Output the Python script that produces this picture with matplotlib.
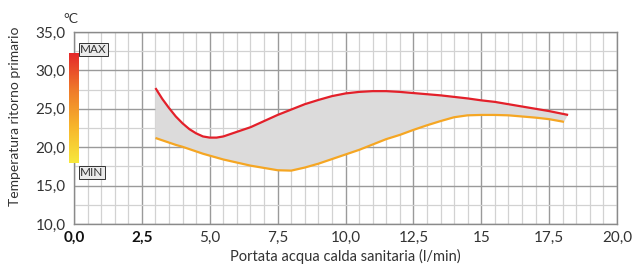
import numpy as np
import matplotlib
import matplotlib.pyplot as plt
from matplotlib.colors import LinearSegmentedColormap

matplotlib.use('Agg')
plt.rcParams['font.family'] = ['Lato', 'DejaVu Sans']

# Dati
portata = [3.0, 3.25, 3.5, 3.75, 4.0, 4.25, 4.5, 4.75, 5.0, 5.25, 5.5, 6.0, 6.5,
           7.0, 7.5, 8.0, 8.5, 9.0, 9.5, 10.0, 10.5, 11.0, 11.5, 12.0, 12.5,
           13.0, 13.5, 14.0, 14.5, 15.0, 15.5, 16.0, 16.5, 17.0, 17.5]
temp_max = [27.7, 26.3, 25.1, 24.0, 23.1, 22.35, 21.8, 21.4, 21.25, 21.25, 21.4,
            22.0, 22.6, 23.4, 24.2, 24.9, 25.6, 26.15, 26.65, 27.0, 27.2, 27.3,
            27.3, 27.2, 27.05, 26.9, 26.75, 26.55, 26.35, 26.1, 25.9, 25.6, 25.3,
            25.0, 24.7]
temp_min = [21.2, 20.9, 20.6, 20.3, 20.05, 19.75, 19.45, 19.15, 18.9, 18.65, 18.4,
            18.0, 17.6, 17.3, 17.0, 16.95, 17.35, 17.85, 18.45, 19.05, 19.65,
            20.35, 21.05, 21.6, 22.25, 22.85, 23.4, 23.9, 24.15, 24.2, 24.2,
            24.15, 24.0, 23.85, 23.65]
x_max = portata + [18.2]
y_max = temp_max + [24.2]
x_min = portata + [18.05]
y_min = temp_min + [23.3]

xticks = [0, 2.5, 5, 7.5, 10, 12.5, 15, 17.5, 20]
xlabels = ['0,0', '2,5', '5,0', '7,5', '10,0', '12,5', '15', '17,5', '20,0']
yticks = [10, 15, 20, 25, 30, 35]
ylabels = ['10,0', '15,0', '20,0', '25,0', '30,0', '35,0']

fig = plt.figure(figsize=(6.35, 2.66), dpi=100)
ax = fig.add_axes([74/635, 42/266, 543/635, 192/266])
ax.set_xlim(0, 20)
ax.set_ylim(10, 35)

# griglia
for v in np.arange(0, 20.01, 0.5):
    major = abs(v / 2.5 - round(v / 2.5)) < 1e-6
    ax.axvline(v, color='#9a9a9a' if major else '#d2d2d2', lw=1.0 if major else 0.9, zorder=1)
for v in np.arange(10, 35.01, 2.5):
    major = abs(v / 5 - round(v / 5)) < 1e-6
    ax.axhline(v, color='#9a9a9a' if major else '#d2d2d2', lw=1.0 if major else 0.9, zorder=1)

ax.fill(np.concatenate([x_max, x_min[::-1]]), np.concatenate([y_max, y_min[::-1]]),
        color='#dcdbdb', lw=0, zorder=2)
ax.plot(x_min, y_min, color='#f5a623', lw=1.6, zorder=3, solid_capstyle='butt')
ax.plot(x_max, y_max, color='#e3202a', lw=1.6, zorder=4, solid_capstyle='butt')

for s in ax.spines.values():
    s.set_color('#8a8a8a')
    s.set_linewidth(1.0)

ax.set_xticks(xticks)
ax.set_xticklabels(xlabels)
ax.set_yticks(yticks)
ax.set_yticklabels(ylabels)
ax.tick_params(length=0, labelsize=11, colors='#333333', pad=5)
ax.tick_params(axis='y', pad=6)
for lab in ax.get_xticklabels()[:2]:
    lab.set_fontweight('bold')
    lab.set_color('#111111')

ax.set_xlabel('Portata acqua calda sanitaria (l/min)', fontsize=10.5, color='#333333', labelpad=3)
ax.set_ylabel('Temperatura ritorno primario', fontsize=10, color='#333333')
ax.yaxis.set_label_coords(-0.097, 0.56)
ax.text(-0.1, 35.9, '°C', fontsize=10, color='#333333', ha='center', va='bottom')

# barra colore MAX/MIN
cmap = LinearSegmentedColormap.from_list('mm', ['#f8e83c', '#f7b52c', '#ef7a2a', '#e5282a'])
grad = np.linspace(0, 1, 256).reshape(-1, 1)
ax.imshow(grad, cmap=cmap, aspect='auto', origin='lower',
          extent=[-0.18, 0.18, 17.9, 32.1], clip_on=False, zorder=6)
box = dict(boxstyle='square,pad=0.1', fc='#ebebeb', ec='#333333', lw=0.7)
ax.text(0.22, 32.75, 'MAX', fontsize=8.5, color='#333333', va='center', ha='left', bbox=box, zorder=7)
ax.text(0.22, 16.7, 'MIN', fontsize=8.5, color='#333333', va='center', ha='left', bbox=box, zorder=7)

fig.savefig('out.png', dpi=100)
